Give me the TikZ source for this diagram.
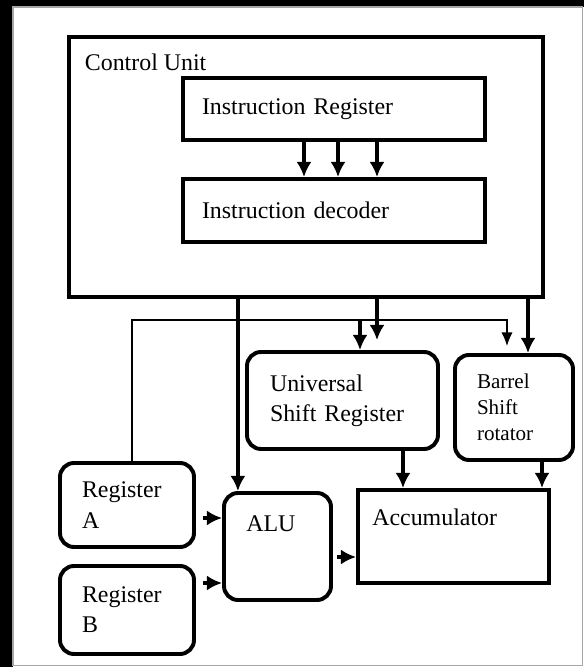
\documentclass[tikz,border=0pt]{standalone}
\usepackage{fontspec}
\setmainfont{Liberation Serif}
\usepackage{tikz}
\usetikzlibrary{arrows.meta}

\tikzset{
  block/.style={draw, line width=2.8pt, align=left, inner xsep=0.55cm,
    font=\fontsize{17}{21.5}\selectfont},
  rblock/.style={block, rounded corners=0.35cm},
  boxtitle/.style={anchor=base west, inner sep=0pt, font=\fontsize{17}{21.5}\selectfont},
  arr/.style={-{Latex[length=0.38cm,width=0.38cm]}, line width=2.6pt},
  wire/.style={-{Latex[length=0.34cm,width=0.28cm]}, line width=0.9pt},
}

\begin{document}
\begin{tikzpicture}
	\useasboundingbox (0,0) rectangle (14.6,16.675);
	% frame of the scan
	\fill[white] (-0.1,-0.1) rectangle (14.7,16.675);
	\fill[black] (0,16.5) rectangle (14.6,16.675);
	\fill[black] (0,0) rectangle (0.325,16.675);
	\draw[gray!70, line width=0.8pt] (0.325,0.04) rectangle (14.57,16.5);

	% control unit
	\node[block, line width=3.4pt, minimum width=11.85cm, minimum height=6.5cm] (cu) at (7.65,12.5) {};
	\node[boxtitle] (cutxt) at ([shift={(0.45,-0.9)}]cu.north west) {Control Unit};
	\node[block, text width=6.6cm, minimum height=1.55cm, inner xsep=0.475cm] (ir) at (8.35,13.95) {Instruction Register};
	\node[block, text width=6.6cm, minimum height=1.575cm, inner xsep=0.475cm] (id) at (8.35,11.4125) {Instruction decoder};
	\draw[arr] ([xshift=-0.75cm]ir.south) -- ([xshift=-0.75cm]id.north);
	\draw[arr] ([xshift=0.1cm]ir.south) -- ([xshift=0.1cm]id.north);
	\draw[arr] ([xshift=1.075cm]ir.south) -- ([xshift=1.075cm]id.north);

	% datapath blocks
	\node[rblock, text width=3.625cm, minimum height=2.425cm, inner xsep=0.575cm] (usr) at (8.5625,6.6625) {Universal\\Shift Register};
	\node[rblock, text width=1.85cm, minimum height=2.625cm, font=\fontsize{15}{18.5}\selectfont] (bsr) at (12.85,6.4875) {Barrel\\Shift\\rotator};
	\node[rblock, text width=2.25cm, minimum height=2.1cm] (rega) at (3.175,4.05) {Register\\A};
	\node[rblock, text width=2.25cm, minimum height=2.2cm] (regb) at (3.175,1.425) {Register\\B};
	\node[rblock, minimum width=2.675cm, minimum height=2.675cm] (alu) at (6.9375,3.0125) {};
	\node[boxtitle] (alutxt) at ([shift={(0.6,-1)}]alu.north west) {ALU};
	\node[block, minimum width=4.775cm, minimum height=2.325cm] (acc) at (11.3375,3.2625) {};
	\node[boxtitle] (acctxt) at ([shift={(0.4,-0.925)}]acc.north west) {Accumulator};

	% control lines
	\coordinate (alutop) at ([xshift=-0.99cm]alu.north);
	\draw[arr] (alutop |- cu.south) -- (alutop);
	\coordinate (usrtop) at ([xshift=0.8625cm,yshift=0.25cm]usr.north);
	\draw[arr] (usrtop |- cu.south) -- (usrtop);
	\coordinate (bsrtop) at ([xshift=0.35cm]bsr.north);
	\draw[arr] (bsrtop |- cu.south) -- (bsrtop);

	% line from register A
	\coordinate (bus) at (0,8.675);
	\coordinate (busa) at ([xshift=0.125cm]rega.north);
	\coordinate (busu) at ([xshift=0.4375cm]usr.north);
	\coordinate (busb) at ([xshift=-0.175cm,yshift=0.175cm]bsr.north);
	\draw[wire] (busa) |- (bus -| busb) -- (busb);
	\draw[arr] (busu |- bus) -- (busu);

	% data paths
	\coordinate (usrout) at ([xshift=1.5125cm]usr.south);
	\draw[arr] (usrout) -- (usrout |- acc.north);
	\coordinate (bsrout) at ([xshift=0.7cm]bsr.south);
	\draw[arr] (bsrout) -- (bsrout |- acc.north);
	\coordinate (ina) at ([xshift=0.175cm,yshift=-0.325cm]rega.east);
	\draw[arr] (ina) -- (ina -| alu.west);
	\coordinate (inb) at ([xshift=0.175cm,yshift=0.675cm]regb.east);
	\draw[arr] (inb) -- (inb -| alu.west);
	\coordinate (aluout) at ([xshift=0.1cm,yshift=-0.2625cm]alu.east);
	\draw[arr] (aluout) -- (aluout -| acc.west);
\end{tikzpicture}
\end{document}
